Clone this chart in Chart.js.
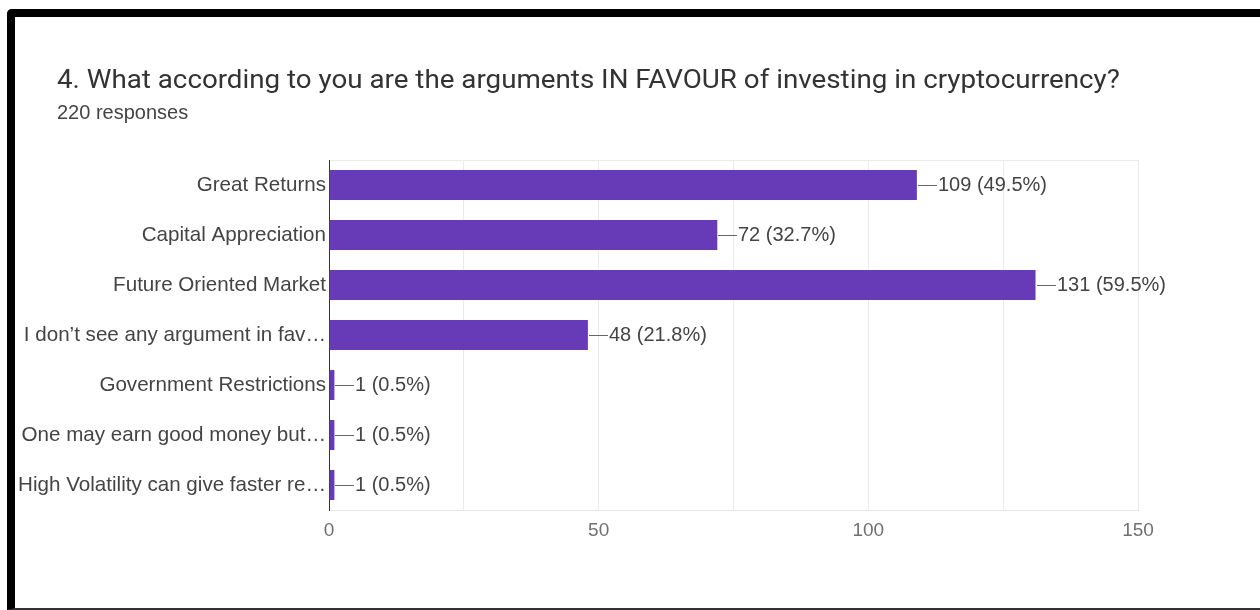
<!DOCTYPE html>
<html>
<head>
<meta charset="utf-8">
<script src="https://cdn.jsdelivr.net/npm/chart.js@4.4.0/dist/chart.umd.min.js"></script>
<style>
  html, body { margin: 0; padding: 0; background: #fff; }
  body { width: 1260px; height: 610px; position: relative; overflow: hidden; }
  #chart { position: absolute; left: 0; top: 0; }
  .frame {
    position: absolute; left: 7px; top: 9px; right: 0; bottom: 0;
    border-top: 8px solid #000; border-left: 8px solid #000;
    border-bottom: 2px solid #333; border-top-left-radius: 5px;
    pointer-events: none;
  }
  .title {
    position: absolute; left: 57px; top: 65px; margin: 0;
    font: 400 25px Roboto, sans-serif; color: #333; white-space: nowrap;
    transform: scaleX(1.11); transform-origin: left center;
  }
  .responses {
    position: absolute; left: 57px; top: 101px; margin: 0;
    font: 20px "Liberation Sans", Arial, sans-serif; color: #444;
  }
</style>
</head>
<body>
<canvas id="chart" width="1260" height="610"></canvas>
<div class="frame"></div>
<h1 class="title">4. What according to you are the arguments IN FAVOUR of investing in cryptocurrency?</h1>
<p class="responses">220 responses</p>
<script>
const categories = [
  'Great Returns',
  'Capital Appreciation',
  'Future Oriented Market',
  'I don\u2019t see any argument in fav\u2026',
  'Government Restrictions',
  'One may earn good money but\u2026',
  'High Volatility can give faster re\u2026'
];
const counts = [109, 72, 131, 48, 1, 1, 1];
const totalResponses = 220;
const xTickLabels = [0, 50, 100, 150];

const labelFont = '"Liberation Sans", Arial, sans-serif';

// count + share of all responses, with a short leader line from the bar end
const valueLabels = {
  id: 'valueLabels',
  afterDatasetsDraw(chart) {
    const c = chart.ctx;
    const meta = chart.getDatasetMeta(0);
    c.save();
    c.strokeStyle = '#666';
    c.lineWidth = 1;
    c.fillStyle = '#444';
    c.font = '20px ' + labelFont;
    c.textBaseline = 'middle';
    c.textAlign = 'left';
    meta.data.forEach((bar, i) => {
      const v = counts[i];
      const x = Math.round(bar.x);
      const y = Math.round(bar.y) + 0.5;
      c.beginPath();
      c.moveTo(x + 1, y);
      c.lineTo(x + 20, y);
      c.stroke();
      c.fillText(v + ' (' + (v / totalResponses * 100).toFixed(1) + '%)', x + 21, y);
    });
    c.restore();
  }
};

new Chart(document.getElementById('chart'), {
  type: 'bar',
  data: {
    labels: categories,
    datasets: [{
      data: counts,
      backgroundColor: '#673ab7',
      barPercentage: 0.6,
      categoryPercentage: 1
    }]
  },
  options: {
    indexAxis: 'y',
    responsive: false,
    devicePixelRatio: 1,
    animation: false,
    layout: { padding: { top: 160, right: 122, bottom: 0, left: 0 } },
    plugins: {
      legend: { display: false },
      tooltip: { enabled: false }
    },
    scales: {
      x: {
        min: 0,
        max: 150,
        afterFit: s => { s.height = 100; },
        ticks: {
          stepSize: 25,
          padding: 9,
          color: '#707070',
          font: { family: labelFont, size: 19 },
          callback: v => xTickLabels.includes(v) ? v : ''
        },
        grid: { color: '#ebebeb', drawTicks: false },
        border: { color: '#e6e6e6' }
      },
      y: {
        afterFit: s => { s.width = 329; },
        ticks: {
          padding: 3,
          color: '#444',
          font: { family: labelFont, size: 20.6 }
        },
        grid: {
          drawTicks: false,
          color: ctx => ctx.index === 0 ? '#ebebeb' : 'rgba(0,0,0,0)'
        },
        border: { color: '#333' }
      }
    }
  },
  plugins: [valueLabels]
});
</script>
</body>
</html>
